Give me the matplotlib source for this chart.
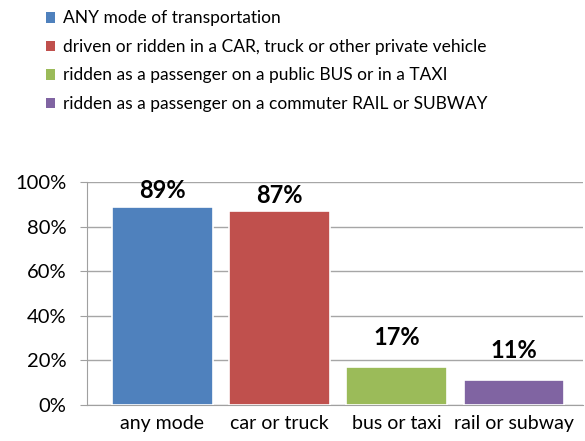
import matplotlib.pyplot as plt
from matplotlib.patches import Patch

plt.rcParams['font.family'] = ['Lato', 'DejaVu Sans']

categories = ['any mode', 'car or truck', 'bus or taxi', 'rail or subway']
values = [89, 87, 17, 11]
legend_labels = [
    'ANY mode of transportation',
    'driven or ridden in a CAR, truck or other private vehicle',
    'ridden as a passenger on a public BUS or in a TAXI',
    'ridden as a passenger on a commuter RAIL or SUBWAY',
]
colors = ['#4F81BD', '#C0504D', '#9BBB59', '#8064A2']
label_offsets = [3, 3, 13, 13]  # points above bar top, as Excel placed them

fig = plt.figure(figsize=(5.85, 4.41), dpi=100)
ax = fig.add_axes([0.1487, 0.0816, 0.8479, 0.5054])

x = range(len(categories))
bars = ax.bar(x, values, width=0.86, color=colors, edgecolor='white', linewidth=1.2, zorder=3)

for b, v, off in zip(bars, values, label_offsets):
    ax.annotate(f'{v}%', (b.get_x() + b.get_width() / 2, b.get_height()),
                xytext=(0, off), textcoords='offset points',
                ha='center', va='bottom', fontsize=17, fontweight='bold')

ax.set_ylim(0, 100)
ax.set_xlim(-0.644, 3.59)
ax.set_yticks(range(0, 101, 20))
ax.set_yticklabels([f'{t}%' for t in range(0, 101, 20)], fontsize=14.5)
ax.set_xticks(list(x))
ax.set_xticklabels(categories, fontsize=14)
ax.tick_params(axis='x', length=0, pad=7)
ax.tick_params(axis='y', length=5, color='#A0A0A0', pad=10)
ax.yaxis.grid(True, color='#A6A6A6', linewidth=1, zorder=0)
ax.set_axisbelow(True)
for side in ['top', 'right']:
    ax.spines[side].set_visible(False)
for side in ['left', 'bottom']:
    ax.spines[side].set_color('#A0A0A0')

handles = [Patch(facecolor=c, edgecolor='none') for c in colors]
fig.legend(handles, legend_labels, loc='upper left', bbox_to_anchor=(0.06, 1.0),
           frameon=False, fontsize=12.5, handlelength=0.55, handleheight=0.55,
           handletextpad=0.45, labelspacing=0.72, borderaxespad=0.2)

fig.savefig('out.png', dpi=100)
